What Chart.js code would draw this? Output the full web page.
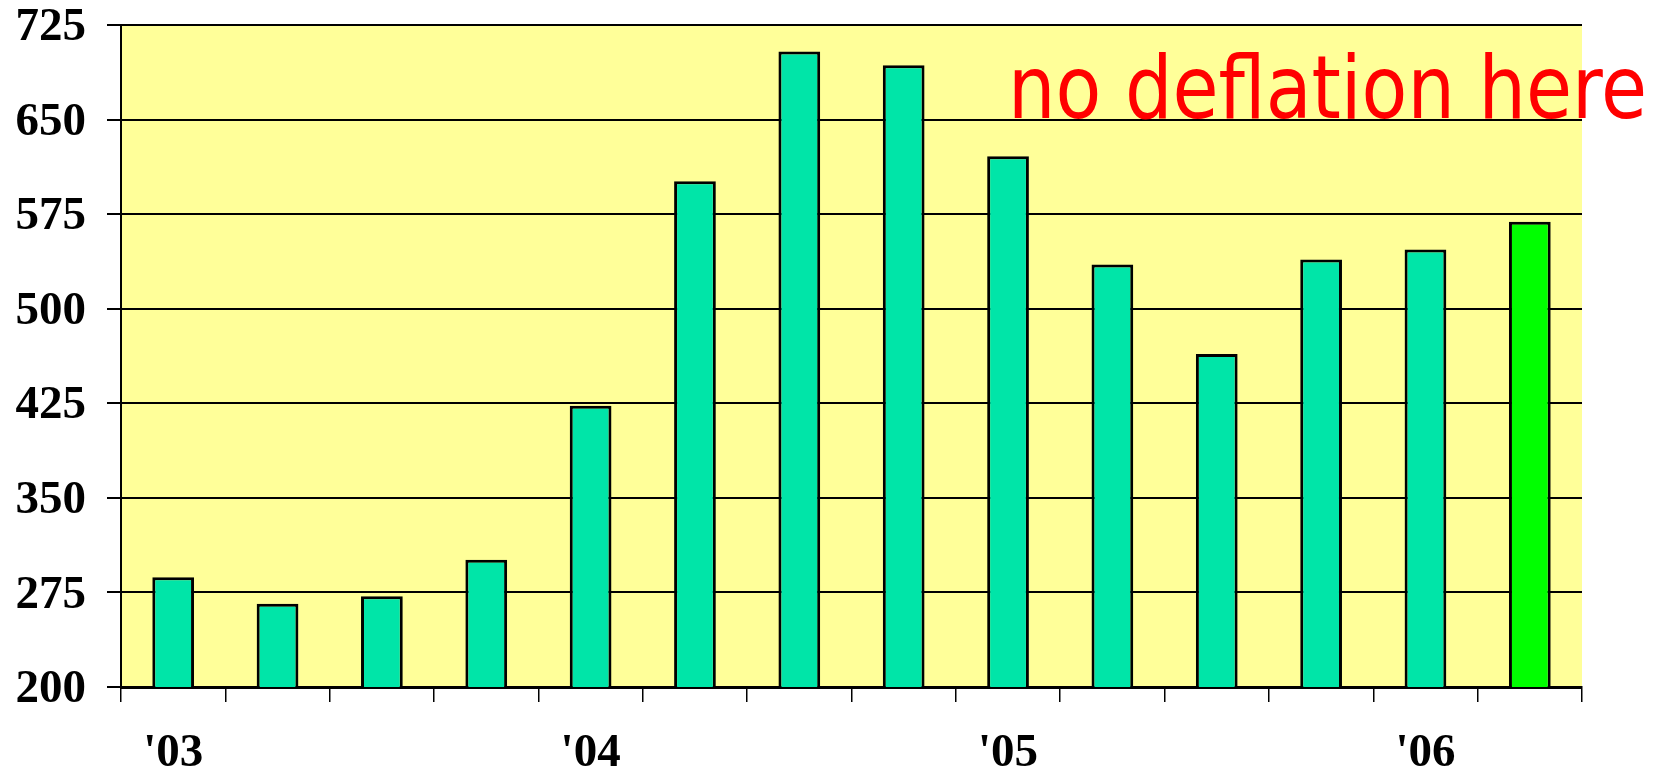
<!DOCTYPE html>
<html>
<head>
<meta charset="utf-8">
<title>no deflation here</title>
<script src="https://cdn.jsdelivr.net/npm/chart.js@4.4.1/dist/chart.umd.min.js"></script>
<style>
  html, body { margin: 0; padding: 0; background: #ffffff; }
  canvas { display: block; }
</style>
</head>
<body>
<canvas id="chart" width="1668" height="774"></canvas>
<script>
// quarterly values, '03 Q1 .. '06 Q2
const QUARTERS = [
  "2003 Q1", "2003 Q2", "2003 Q3", "2003 Q4",
  "2004 Q1", "2004 Q2", "2004 Q3", "2004 Q4",
  "2005 Q1", "2005 Q2", "2005 Q3", "2005 Q4",
  "2006 Q1", "2006 Q2",
];
const VALUES = [287, 266, 272, 301, 423, 601, 704, 693, 621, 535, 464, 539, 547, 569];
const YEAR_LABELS = ["'03", "'04", "'05", "'06"];
const NOTE = 'no deflation here';

const TEAL = '#00E5A8';
const GREEN = '#00FF00';
const PLOT_BG = '#FFFF99';
const TICK_FONT = { family: '"Liberation Serif", "Times New Roman", serif', size: 47, weight: 'bold' };

const plotBackground = {
  id: 'plotBackground',
  beforeDraw(chart) {
    const { ctx, chartArea: a } = chart;
    ctx.save();
    ctx.fillStyle = PLOT_BG;
    ctx.fillRect(a.left, a.top, a.right - a.left, a.bottom - a.top);
    ctx.restore();
  },
};

// red note, top right, sits on the 650 line
const noteLabel = {
  id: 'noteLabel',
  afterDraw(chart) {
    const { ctx, chartArea: a, scales } = chart;
    const baseline = scales.y.getPixelForValue(651.5);
    const right = a.right + 65;
    const left = a.right - 574;
    ctx.save();
    ctx.font = '88px "DejaVu Sans Condensed", "DejaVu Sans", sans-serif';
    ctx.fillStyle = '#FF0000';
    ctx.textBaseline = 'alphabetic';
    ctx.textAlign = 'left';
    const w = ctx.measureText(NOTE).width;
    ctx.translate(left, baseline);
    ctx.scale((right - left) / w, 1);
    ctx.fillText(NOTE, 0, 0);
    ctx.restore();
  },
};

new Chart(document.getElementById('chart'), {
  type: 'bar',
  data: {
    labels: QUARTERS,
    datasets: [{
      data: VALUES,
      backgroundColor: (c) => (c.dataIndex === VALUES.length - 1 ? GREEN : TEAL),
      borderColor: '#000000',
      borderWidth: 3,
      borderSkipped: false,
      barPercentage: 0.4,
      categoryPercentage: 1.0,
    }],
  },
  options: {
    responsive: false,
    animation: false,
    devicePixelRatio: 1,
    layout: { padding: { left: 0, right: 86, top: 0, bottom: 0 } },
    plugins: {
      legend: { display: false },
      tooltip: { enabled: false },
    },
    scales: {
      x: {
        offset: true,
        afterFit: (s) => { s.height = 87; },
        grid: {
          offset: true,
          drawOnChartArea: false,
          drawTicks: true,
          tickLength: 15,
          color: '#000000',
          lineWidth: 1.5,
        },
        border: { display: true, color: '#000000', width: 3 },
        ticks: {
          autoSkip: false,
          maxRotation: 0,
          padding: 24,
          color: '#000000',
          font: TICK_FONT,
          callback: (v, i) => (i % 4 === 0 ? YEAR_LABELS[i / 4] : ''),
        },
      },
      y: {
        min: 200,
        max: 725,
        afterFit: (s) => {
          s.width = 121;
          s.paddingTop = 25;
          s.paddingBottom = 0;
        },
        grid: {
          color: '#000000',
          lineWidth: 2,
          tickLength: 14,
        },
        border: { display: true, color: '#000000', width: 2 },
        ticks: {
          stepSize: 75,
          padding: 21,
          labelOffset: 3,
          color: '#000000',
          font: TICK_FONT,
        },
      },
    },
  },
  plugins: [plotBackground, noteLabel],
});
</script>
</body>
</html>
